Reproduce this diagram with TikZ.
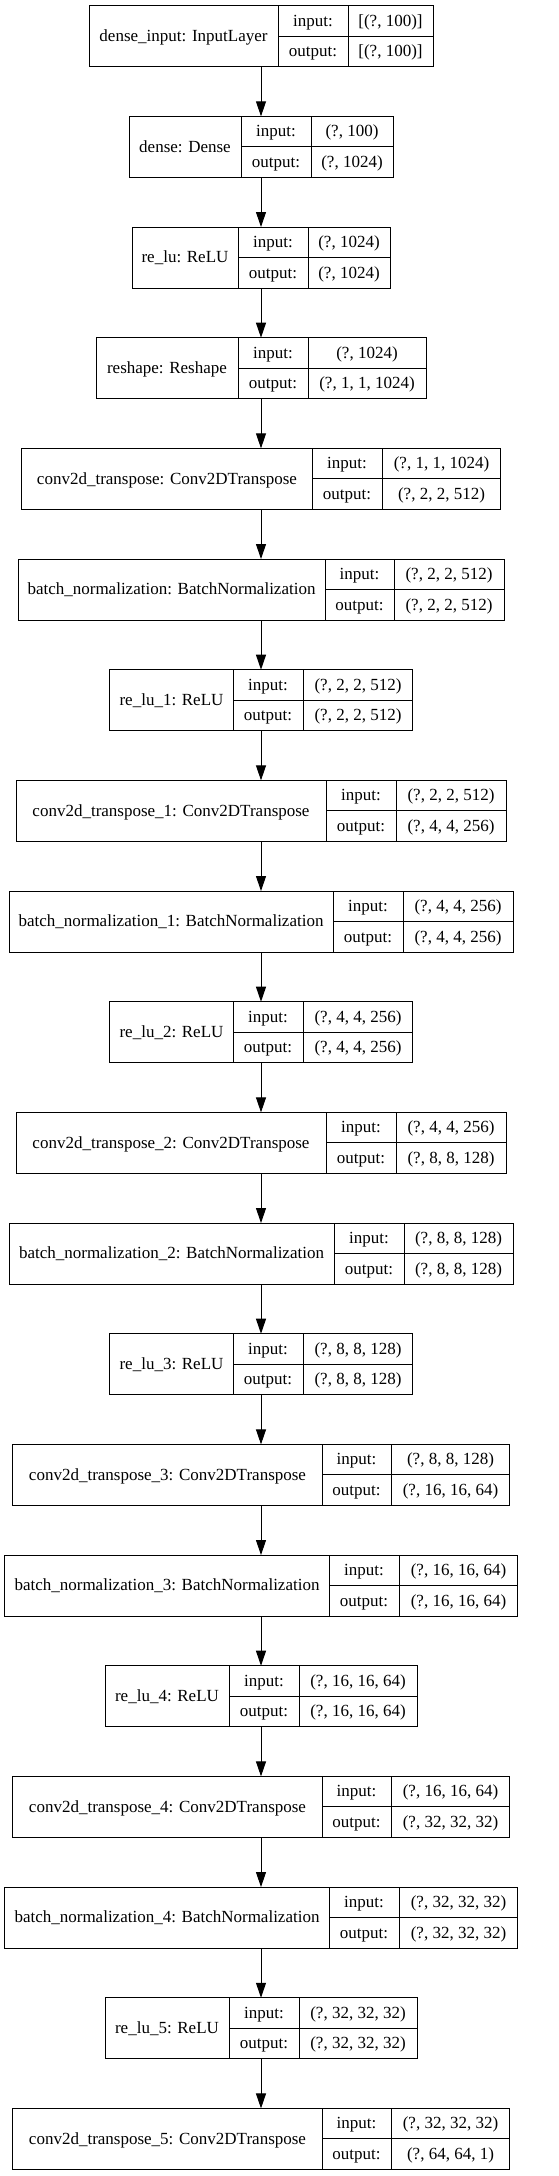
\documentclass[tikz,border=0pt]{standalone}
\usepackage{fontspec}
\setmainfont{Liberation Serif}
\usetikzlibrary{arrows.meta}
\tikzset{
  box/.style={draw, line width=1pt, inner sep=0pt, outer sep=0pt, minimum height=61pt},
  cell/.style={line width=1pt},
  txt/.style={inner sep=0pt, anchor=base, font=\fontsize{17}{20}\selectfont},
  arr/.style={line width=1pt, -{Triangle[length=15pt,width=10pt]}}
}
\newcommand{\lyr}[9]{%
  \pgfmathsetmacro\lyT{-(5.67+(#2-1)*110.67)}%
  \pgfmathsetmacro\lyB{\lyT-61}%
  \pgfmathsetmacro\lyM{\lyT-30.5}%
  \pgfmathsetmacro\lyU{\lyT-15.25-5.3}%
  \pgfmathsetmacro\lyL{\lyT-45.75-5.3}%
  \pgfmathsetmacro\lyN{\lyM-5.3}%
  \pgfmathsetmacro\lyW{#6-#3}%
  \node[box, minimum width=\lyW pt] (#1) at (261,\lyM) {};
  \draw[cell] (#4,\lyT) -- (#4,\lyB) (#5,\lyT) -- (#5,\lyB) (#4,\lyM) -- (#6,\lyM);
  \node[txt] (#1-name) at ({(#3+#4)/2},\lyN) {#7};
  \node[txt] (#1-inl) at ({(#4+#5)/2},\lyU) {input:};
  \node[txt] (#1-outl) at ({(#4+#5)/2},\lyL) {output:};
  \node[txt] (#1-inv) at ({(#5+#6)/2},\lyU) {#8};
  \node[txt] (#1-outv) at ({(#5+#6)/2},\lyL) {#9};
}
\begin{document}
\begin{tikzpicture}[x=1pt,y=1pt]
\useasboundingbox[fill=white] (0,0) rectangle (559,-2176);
\lyr{b1}{1}{89}{278}{348}{433}{dense\_input: InputLayer}{[(?, 100)]}{[(?, 100)]}
\lyr{b2}{2}{129}{241}{311}{393}{dense: Dense}{(?, 100)}{(?, 1024)}
\lyr{b3}{3}{132}{238}{308}{390}{re\_lu: ReLU}{(?, 1024)}{(?, 1024)}
\lyr{b4}{4}{96}{238}{308}{426}{reshape: Reshape}{(?, 1024)}{(?, 1, 1, 1024)}
\lyr{b5}{5}{22}{312}{382}{501}{conv2d\_transpose: Conv2DTranspose}{(?, 1, 1, 1024)}{(?, 2, 2, 512)}
\lyr{b6}{6}{18}{325}{394}{504}{batch\_normalization: BatchNormalization}{(?, 2, 2, 512)}{(?, 2, 2, 512)}
\lyr{b7}{7}{110}{233}{303}{413}{re\_lu\_1: ReLU}{(?, 2, 2, 512)}{(?, 2, 2, 512)}
\lyr{b8}{8}{16}{326}{396}{506}{conv2d\_transpose\_1: Conv2DTranspose}{(?, 2, 2, 512)}{(?, 4, 4, 256)}
\lyr{b9}{9}{9}{333}{403}{513}{batch\_normalization\_1: BatchNormalization}{(?, 4, 4, 256)}{(?, 4, 4, 256)}
\lyr{b10}{10}{110}{233}{303}{413}{re\_lu\_2: ReLU}{(?, 4, 4, 256)}{(?, 4, 4, 256)}
\lyr{b11}{11}{16}{326}{396}{506}{conv2d\_transpose\_2: Conv2DTranspose}{(?, 4, 4, 256)}{(?, 8, 8, 128)}
\lyr{b12}{12}{9}{334}{404}{513}{batch\_normalization\_2: BatchNormalization}{(?, 8, 8, 128)}{(?, 8, 8, 128)}
\lyr{b13}{13}{110}{233}{303}{413}{re\_lu\_3: ReLU}{(?, 8, 8, 128)}{(?, 8, 8, 128)}
\lyr{b14}{14}{13}{322}{391}{510}{conv2d\_transpose\_3: Conv2DTranspose}{(?, 8, 8, 128)}{(?, 16, 16, 64)}
\lyr{b15}{15}{5}{329}{399}{518}{batch\_normalization\_3: BatchNormalization}{(?, 16, 16, 64)}{(?, 16, 16, 64)}
\lyr{b16}{16}{105}{229}{299}{417}{re\_lu\_4: ReLU}{(?, 16, 16, 64)}{(?, 16, 16, 64)}
\lyr{b17}{17}{13}{322}{391}{510}{conv2d\_transpose\_4: Conv2DTranspose}{(?, 16, 16, 64)}{(?, 32, 32, 32)}
\lyr{b18}{18}{5}{329}{399}{518}{batch\_normalization\_4: BatchNormalization}{(?, 32, 32, 32)}{(?, 32, 32, 32)}
\lyr{b19}{19}{105}{229}{299}{417}{re\_lu\_5: ReLU}{(?, 32, 32, 32)}{(?, 32, 32, 32)}
\lyr{b20}{20}{13}{322}{391}{510}{conv2d\_transpose\_5: Conv2DTranspose}{(?, 32, 32, 32)}{(?, 64, 64, 1)}
\foreach \i [evaluate=\i as \j using int(\i+1)] in {1,...,19}
  \draw[arr] (b\i.south) -- (b\j.north);
\end{tikzpicture}
\end{document}
